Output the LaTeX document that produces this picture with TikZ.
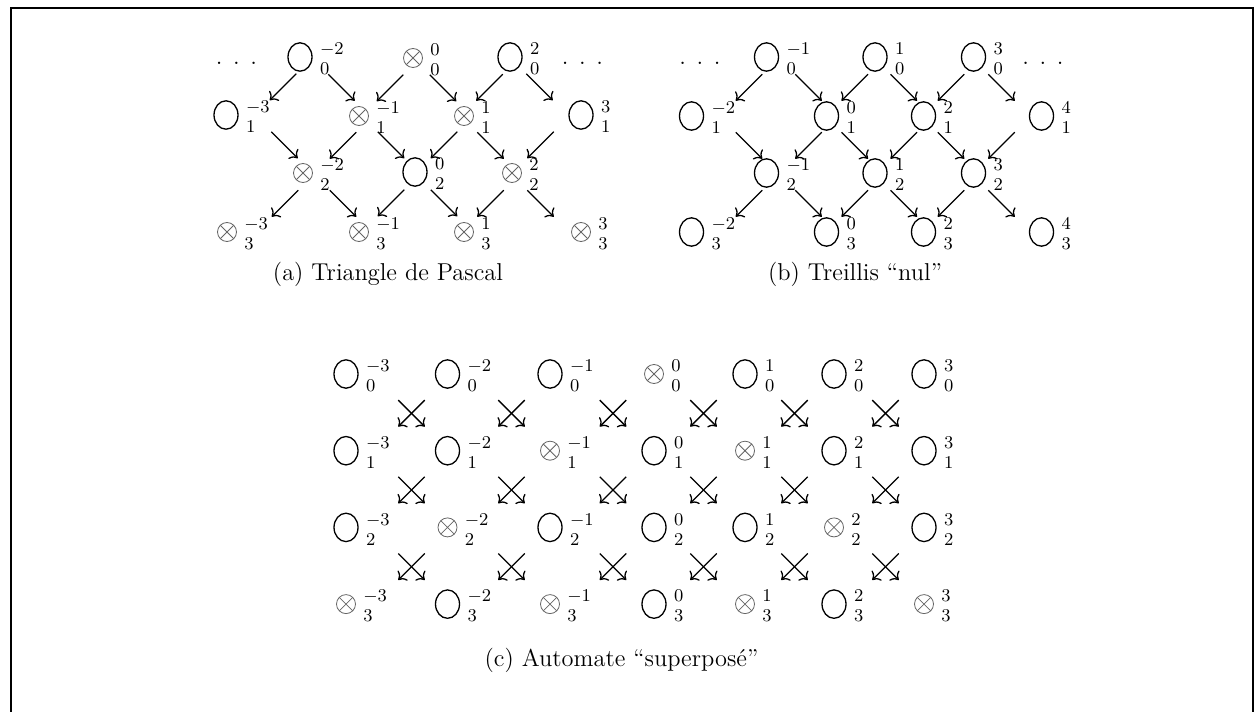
\documentclass[tikz,border=0pt]{standalone}
\usepackage{xcolor}
\usepackage{amsmath}
\usepackage{tikz}
\usetikzlibrary{calc}
\usetikzlibrary{arrows.meta}
\usetikzlibrary{shapes.geometric}
\tikzset{>={To[length=3.4pt, width=7pt]}}
\newcommand{\scripts}{\fontsize{9.5}{10}\selectfont}
\newcommand{\legende}{\fontsize{12.2}{14}\selectfont}
\tikzstyle{vide} = [draw, ellipse, line width = 0.65pt, minimum width = 12pt, minimum height = 14.2pt, inner sep = 0]
\tikzstyle{marque} = [draw = black!60, circle, line width = 0.4pt, minimum size = 9.5pt, inner sep = 0, path picture = {\draw [black!60, line width = 0.4pt] (path picture bounding box.north west) -- (path picture bounding box.south east) (path picture bounding box.north east) -- (path picture bounding box.south west);}]
\tikzstyle{haut} = [anchor = base west, inner sep = 0, font = \scripts, xshift = 3.5pt, yshift = 1.2pt]
\tikzstyle{bas} = [anchor = base west, inner sep = 0, font = \scripts, xshift = 3.5pt, yshift = -8.8pt]
\tikzstyle{fleche} = [->, line width = 0.65pt]
\tikzstyle{titre} = [draw = none, inner sep = 0, font = \legende]
\tikzset{etiq/.style 2 args = {label = {[haut]east:$#1$}, label = {[bas]east:$#2$}}}
% fleches a 45 degres, centrees entre les deux etats
\tikzset{vd/.style = {to path = {($(\tikztostart)!.5!(\tikztotarget)+(#1,1)+(-13.25,-13.25)$) -- ++(26.5,26.5)}}}
\tikzset{vg/.style = {to path = {($(\tikztostart)!.5!(\tikztotarget)+(#1,1)+(13.25,-13.25)$) -- ++(-26.5,26.5)}}}

\begin{document}
\begin{tikzpicture}[x = 0.5pt, y = -0.5pt]
\useasboundingbox (0, 0) rectangle (1256, 711);
\draw [line width = 1pt] (11, 720) |- (1253, 7.7) -- (1253, 720);

% (a) triangle de Pascal
\node [titre] (pa) at (236.5, 63) {. . .};
\node [titre] (pb) at (582.5, 63) {. . .};
\node [vide, etiq = {-2}{0}] (a10) at (300, 57) {};
\node [marque, etiq = {0}{0}] (a30) at (413, 58) {};
\node [vide, etiq = {2}{0}] (a50) at (510, 57) {};
\node [vide, etiq = {-3}{1}] (a01) at (226, 115) {};
\node [marque, etiq = {-1}{1}] (a21) at (359, 116) {};
\node [marque, etiq = {1}{1}] (a41) at (464, 116) {};
\node [vide, etiq = {3}{1}] (a61) at (581, 115) {};
\node [marque, etiq = {-2}{2}] (a12) at (303, 173) {};
\node [vide, etiq = {0}{2}] (a32) at (415, 172) {};
\node [marque, etiq = {2}{2}] (a52) at (512, 173) {};
\node [marque, etiq = {-3}{3}] (a03) at (227, 232) {};
\node [marque, etiq = {-1}{3}] (a23) at (359, 232) {};
\node [marque, etiq = {1}{3}] (a43) at (464, 232) {};
\node [marque, etiq = {3}{3}] (a63) at (581, 232) {};
\node [titre] (ta) at (388, 274) {(a) Triangle de Pascal};

% (b) treillis nul
\node [titre] (pc) at (700, 63) {. . .};
\node [titre] (pd) at (1043, 63) {. . .};
\node [vide, etiq = {-1}{0}] (b10) at (766.5, 57) {};
\node [vide, etiq = {1}{0}] (b30) at (875, 57) {};
\node [vide, etiq = {3}{0}] (b50) at (973.5, 57) {};
\node [vide, etiq = {-2}{1}] (b01) at (691.5, 116) {};
\node [vide, etiq = {0}{1}] (b21) at (826.5, 116) {};
\node [vide, etiq = {2}{1}] (b41) at (923.5, 116) {};
\node [vide, etiq = {4}{1}] (b61) at (1041.5, 116) {};
\node [vide, etiq = {-1}{2}] (b12) at (766.5, 173) {};
\node [vide, etiq = {1}{2}] (b32) at (875, 173) {};
\node [vide, etiq = {3}{2}] (b52) at (973.5, 173) {};
\node [vide, etiq = {-2}{3}] (b03) at (691.5, 232) {};
\node [vide, etiq = {0}{3}] (b23) at (826.5, 232) {};
\node [vide, etiq = {2}{3}] (b43) at (923.5, 232) {};
\node [vide, etiq = {4}{3}] (b63) at (1041.5, 232) {};
\node [titre] (tb) at (855, 274) {(b) Treillis “nul”};

\foreach \f in {a, b}
  \foreach \s/\t/\d/\v in {10/01/20/vg, 10/21/12/vd, 30/21/4/vg, 30/41/4.5/vd, 50/41/2.5/vg, 50/61/-6/vd,
      01/12/20/vd, 21/12/12/vg, 21/32/4/vd, 41/32/4.5/vg, 41/52/2.5/vd, 61/52/-6/vg,
      12/03/20/vg, 12/23/12/vd, 32/23/4/vg, 32/43/4.5/vd, 52/43/2.5/vg, 52/63/-6/vd}
    \draw [fleche] (\f\s) to [\v = \d] (\f\t);

% (c) automate superpose
\foreach \ligne [count = \i from 0] in {{vide,vide,vide,marque,vide,vide,vide},
    {vide,vide,marque,vide,marque,vide,vide},
    {vide,marque,vide,vide,vide,marque,vide},
    {marque,vide,marque,vide,marque,vide,marque}}
  \foreach \sorte [count = \k from 0] in \ligne {
    \pgfmathsetmacro{\x}{{346,447.5,550,654,745,834,924}[\k]}
    \pgfmathsetmacro{\y}{374+76.7*\i}
    \pgfmathtruncatemacro{\j}{\k-3}
    \node [\sorte, etiq = {\j}{\i}] (c\k\i) at (\x, \y) {};
  }
\foreach \i in {0, 1, 2}
  \foreach \k/\d in {0/14.75, 1/12.75, 2/11, 3/4, 4/5, 5/6.5} {
    \pgfmathtruncatemacro{\kk}{\k+1}
    \pgfmathtruncatemacro{\ii}{\i+1}
    \draw [fleche] (c\k\i) to [vd = \d] (c\kk\ii);
    \draw [fleche] (c\kk\i) to [vg = \d] (c\k\ii);
  }
\node [titre] (tc) at (621.5, 660) {(c) Automate “superposé”};
\end{tikzpicture}
\end{document}
